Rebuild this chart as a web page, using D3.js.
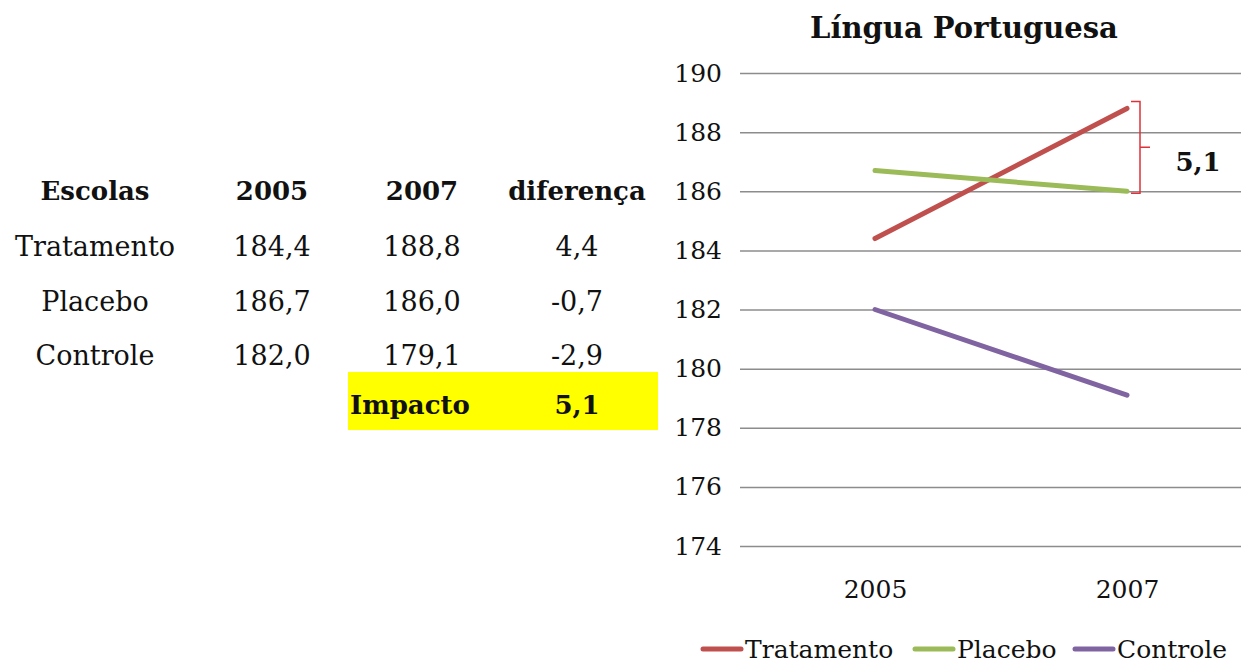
<!DOCTYPE html>
<html>
<head>
<meta charset="utf-8">
<script src="https://cdn.jsdelivr.net/npm/d3@7"></script>
<style>
  body { margin: 0; background: #fff; }
  svg { display: block; font-family: "DejaVu Serif", serif; }
</style>
</head>
<body>
<svg id="chart" width="1241" height="663"></svg>
<script>
// data
const escolas = ["Tratamento", "Placebo", "Controle"];
const anos = ["2005", "2007"];
const valores2005 = [184.4, 186.7, 182.0];
const valores2007 = [188.8, 186.0, 179.1];
const diferencas = [4.4, -0.7, -2.9];
const impacto = 5.1;
const yTicks = [174, 176, 178, 180, 182, 184, 186, 188, 190];
const cores = ["#C0504D", "#9BBB59", "#8064A2"];

// portuguese number format, plain hyphen as minus
const loc = d3.formatLocale({ decimal: ",", thousands: ".", grouping: [3], currency: ["R$", ""], minus: "-" });
const f1 = loc.format(".1f");

const svg = d3.select("#chart");

// ---- table on the left
const colX = [95, 272, 422, 577];
const rowY = [200, 256, 311, 365];
const header = ["Escolas", "2005", "2007", "diferença"];

svg.append("g").selectAll("text")
  .data(header)
  .join("text")
  .attr("x", (d, i) => colX[i])
  .attr("y", rowY[0])
  .attr("text-anchor", "middle")
  .attr("font-size", 26)
  .attr("font-weight", "bold")
  .attr("fill", "#111")
  .text(d => d);

escolas.forEach((e, i) => {
  const row = [e, f1(valores2005[i]), f1(valores2007[i]), f1(diferencas[i])];
  svg.append("g").selectAll("text")
    .data(row)
    .join("text")
    .attr("x", (d, j) => colX[j])
    .attr("y", rowY[i + 1])
    .attr("text-anchor", "middle")
    .attr("font-size", 27)
    .attr("fill", "#111")
    .text(d => d);
});

// yellow impact box
svg.append("rect")
  .attr("x", 348).attr("y", 372)
  .attr("width", 310).attr("height", 58)
  .attr("fill", "#FFFF00");
svg.append("text")
  .attr("x", 350).attr("y", 414)
  .attr("font-size", 26).attr("font-weight", "bold").attr("fill", "#111")
  .text("Impacto");
svg.append("text")
  .attr("x", colX[3]).attr("y", 414)
  .attr("text-anchor", "middle")
  .attr("font-size", 26).attr("font-weight", "bold").attr("fill", "#111")
  .text(f1(impacto));

// ---- line chart on the right
const x = d3.scalePoint()
  .domain(anos)
  .range([749, 1253])
  .padding(0.5);

const y = d3.scaleLinear()
  .domain([174, 190])
  .range([546, 73]);

svg.append("text")
  .attr("x", 964).attr("y", 38)
  .attr("text-anchor", "middle")
  .attr("font-size", 29).attr("font-weight", "bold").attr("fill", "#111")
  .text("Língua Portuguesa");

// gridlines + y labels
const yAxis = svg.append("g")
  .attr("transform", "translate(740,0)")
  .call(d3.axisLeft(y).tickValues(yTicks).tickSize(-510).tickPadding(18).tickFormat(d3.format("d")));
yAxis.select(".domain").remove();
yAxis.selectAll(".tick line").attr("stroke", "#8c8c8c").attr("stroke-width", 1.5);
yAxis.selectAll(".tick text")
  .attr("font-family", "DejaVu Serif, serif")
  .attr("font-size", 25).attr("fill", "#111");

// x labels
const xAxis = svg.append("g")
  .attr("transform", "translate(0,576)")
  .call(d3.axisBottom(x).tickSize(0).tickPadding(4));
xAxis.select(".domain").remove();
xAxis.selectAll(".tick text")
  .attr("font-family", "DejaVu Serif, serif")
  .attr("font-size", 25).attr("fill", "#111");

// lines
const line = d3.line().x(d => x(d.ano)).y(d => y(d.v));
escolas.forEach((e, i) => {
  svg.append("path")
    .datum([{ ano: anos[0], v: valores2005[i] }, { ano: anos[1], v: valores2007[i] }])
    .attr("fill", "none")
    .attr("stroke", cores[i])
    .attr("stroke-width", 5)
    .attr("stroke-linecap", "round")
    .attr("d", line);
});

// bracket showing the impact
const bx = x(anos[1]) + 13;
const yTop = y(valores2007[0]) - 7;
const yBot = y(valores2007[1]) + 2;
const yMid = (yTop + yBot) / 2;
svg.append("path")
  .attr("fill", "none")
  .attr("stroke", "#E0303A")
  .attr("stroke-width", 1.5)
  .attr("d", `M${bx - 9},${yTop} L${bx},${yTop} L${bx},${yBot} L${bx - 9},${yBot} M${bx},${yMid} L${bx + 10},${yMid}`);
svg.append("text")
  .attr("x", bx + 58).attr("y", yMid + 24)
  .attr("text-anchor", "middle")
  .attr("font-size", 26).attr("font-weight", "bold").attr("fill", "#111")
  .text(f1(impacto));

// legend
const legX = [703, 915, 1075];
const leg = svg.append("g").selectAll("g")
  .data(escolas)
  .join("g")
  .attr("transform", (d, i) => `translate(${legX[i]},649)`);
leg.append("line")
  .attr("x1", 0).attr("x2", 38)
  .attr("stroke", (d, i) => cores[i])
  .attr("stroke-width", 5)
  .attr("stroke-linecap", "round");
leg.append("text")
  .attr("x", 42).attr("y", 9)
  .attr("font-size", 25).attr("fill", "#111")
  .text(d => d);
</script>
</body>
</html>
